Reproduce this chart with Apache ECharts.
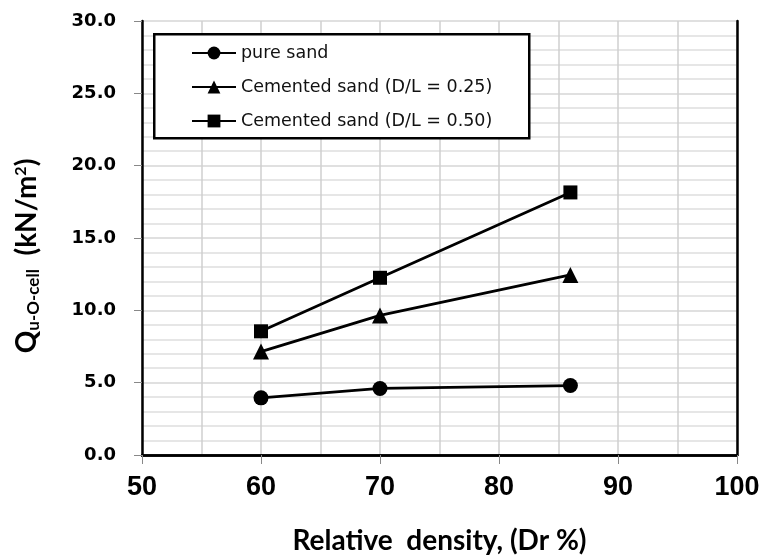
<!DOCTYPE html>
<html>
<head>
<meta charset="utf-8">
<script src="https://cdn.jsdelivr.net/npm/echarts@6/dist/echarts.min.js"></script>
<style>html,body{margin:0;padding:0;background:#fff}#c{width:761px;height:556px}</style>
</head>
<body>
<div id="c"></div>
<script>
const density = [60, 70, 86];
const pureSand = [3.95, 4.6, 4.8];
const cemented025 = [7.15, 9.65, 12.45];
const cemented050 = [8.55, 12.25, 18.15];
const seriesNames = ['pure sand', 'Cemented sand (D/L = 0.25)', 'Cemented sand (D/L = 0.50)'];
const xTicks = [50, 60, 70, 80, 90, 100];
const yTicks = [0, 5, 10, 15, 20, 25, 30];

const chart = echarts.init(document.getElementById('c'));
const mk = (vals) => density.map((d, i) => [d, vals[i]]);
const lineStyle = { color: '#000', width: 2.8 };
const xMin = xTicks[0], xMax = xTicks[xTicks.length - 1];
const yMin = yTicks[0], yMax = yTicks[yTicks.length - 1];
chart.setOption({
  animation: false,
  grid: { left: 142, right: 24, top: 21, bottom: 101, outerBoundsMode: 'none' },
  graphic: [{
    type: 'rect', left: 153, top: 33, z: 100,
    shape: { width: 375, height: 104 },
    style: { fill: '#fff', stroke: '#000', lineWidth: 2.5 }
  }],
  legend: {
    orient: 'vertical', left: 186, top: 39, z: 110,
    itemWidth: 44, itemHeight: 16, itemGap: 16,
    textStyle: { fontFamily: 'DejaVu Sans', fontSize: 17.5, color: '#111' },
    data: seriesNames
  },
  xAxis: [{
    type: 'value', min: xMin, max: xMax, interval: 10,
    name: 'Relative  density, (Dr %)', nameLocation: 'middle', nameGap: 72,
    nameTextStyle: { fontFamily: 'Lato', fontWeight: 'bold', fontSize: 28, color: '#000' },
    axisLine: { lineStyle: { color: '#000', width: 2.5 } },
    axisTick: { show: true, length: 9, lineStyle: { color: '#888', width: 1 } },
    axisLabel: { margin: 19, fontFamily: 'Liberation Sans', fontWeight: 'bold', fontSize: 27, color: '#000' },
    splitLine: { show: true, lineStyle: { color: '#cfcfcf', width: 1.5 } },
    minorTick: { show: false, splitNumber: 2 },
    minorSplitLine: { show: true, lineStyle: { color: '#cfcfcf', width: 1.5 } }
  }, {
    type: 'value', position: 'top', min: xMin, max: xMax,
    axisLine: { show: true, lineStyle: { color: '#000', width: 2.5 } },
    axisTick: { show: false }, axisLabel: { show: false }, splitLine: { show: false }
  }],
  yAxis: [{
    type: 'value', min: yMin, max: yMax, interval: 5,
    name: '{q|Q}{sub|u-O-cell}{n|  (kN/m}{sup|2}{n|)}', nameLocation: 'middle', nameGap: 100, nameRotate: 90,
    nameTextStyle: {
      padding: [0, 36, 0, 0],
      rich: {
        q: { fontFamily: 'Lato', fontWeight: 'bold', fontSize: 28, color: '#000' },
        n: { fontFamily: 'Lato', fontWeight: 'bold', fontSize: 28, color: '#000' },
        sub: { fontFamily: 'Lato', fontWeight: 'bold', fontSize: 17, color: '#000', padding: [13, 0, 0, 0] },
        sup: { fontFamily: 'Lato', fontWeight: 'bold', fontSize: 16, color: '#000', padding: [0, 0, 13, 0] }
      }
    },
    axisLine: { lineStyle: { color: '#000', width: 2.5 } },
    axisTick: { show: true, length: 8, lineStyle: { color: '#888', width: 1 } },
    axisLabel: { margin: 26, fontFamily: 'DejaVu Sans', fontWeight: 'bold', fontSize: 18, color: '#000',
      formatter: (v) => v.toFixed(1) },
    splitLine: { show: true, lineStyle: { color: '#d6d6d6', width: 1.5 } },
    minorTick: { show: false, splitNumber: 5 },
    minorSplitLine: { show: true, lineStyle: { color: '#dedede', width: 1.5 } }
  }, {
    type: 'value', position: 'right', min: yMin, max: yMax,
    axisLine: { show: true, lineStyle: { color: '#000', width: 2.5 } },
    axisTick: { show: false }, axisLabel: { show: false }, splitLine: { show: false }
  }],
  series: [
    { name: seriesNames[0], type: 'line', data: mk(pureSand), symbol: 'circle', symbolSize: 15,
      lineStyle, itemStyle: { color: '#000' } },
    { name: seriesNames[1], type: 'line', data: mk(cemented025), symbol: 'triangle', symbolSize: 16,
      lineStyle, itemStyle: { color: '#000' } },
    { name: seriesNames[2], type: 'line', data: mk(cemented050), symbol: 'rect', symbolSize: 14,
      lineStyle, itemStyle: { color: '#000' } }
  ]
});
</script>
</body>
</html>
